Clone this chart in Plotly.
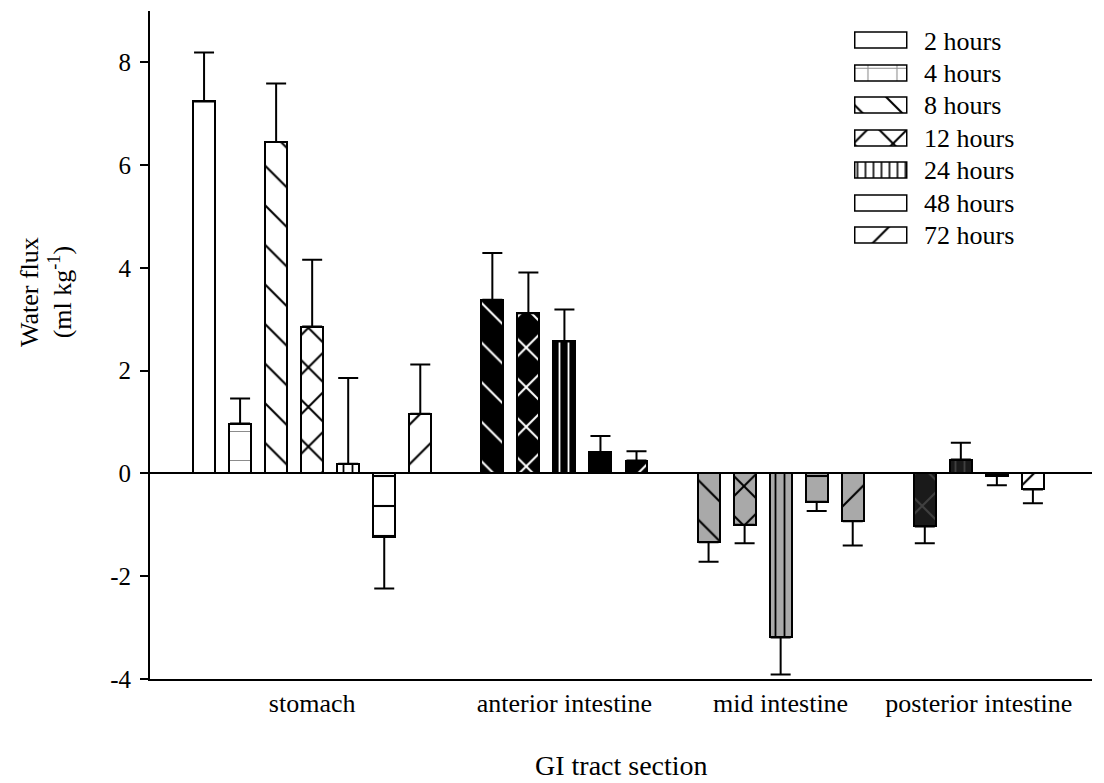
import plotly.graph_objects as go

# ---- data -------------------------------------------------------------
sections = ["stomach", "anterior intestine", "mid intestine", "posterior intestine"]
times = ["2 hours", "4 hours", "8 hours", "12 hours", "24 hours", "48 hours", "72 hours"]

# mean water flux (ml kg-1) per sampling time; None = no measurement
stomach = [7.24, 0.97, 6.45, 2.86, 0.19, -1.23, 1.16]
anterior_intestine = [None, None, 3.38, 3.12, 2.57, 0.42, 0.25]
mid_intestine = [None, None, -1.34, -1.00, -3.19, -0.55, -0.93]
posterior_intestine = [None, None, None, -1.03, 0.27, -0.04, -0.31]

# standard error of each mean (drawn away from zero)
stomach_se = [0.95, 0.49, 1.14, 1.30, 1.67, 1.01, 0.96]
anterior_intestine_se = [None, None, 0.91, 0.79, 0.62, 0.31, 0.18]
mid_intestine_se = [None, None, 0.38, 0.36, 0.72, 0.18, 0.47]
posterior_intestine_se = [None, None, None, 0.33, 0.33, 0.19, 0.27]

y_ticks = [-4, -2, 0, 2, 4, 6, 8]
y_tick_labels = ["-4", "-2", "0", "2", "4", "6", "8"]

means = {
    "stomach": stomach,
    "anterior intestine": anterior_intestine,
    "mid intestine": mid_intestine,
    "posterior intestine": posterior_intestine,
}
errors = {
    "stomach": stomach_se,
    "anterior intestine": anterior_intestine_se,
    "mid intestine": mid_intestine_se,
    "posterior intestine": posterior_intestine_se,
}

# ---- styling ----------------------------------------------------------
FONT = "Liberation Serif, Times New Roman, serif"

# hatch per sampling time: (shape, tile size, solidity)
hatch = {
    "2 hours": ("", 10, 0.1),
    "4 hours": ("+", 29, 0.07),
    "8 hours": ("\\", 28, 0.075),
    "12 hours": ("x", 28, 0.14),
    "24 hours": ("|", 9, 0.2),
    "48 hours": ("-", 30, 0.07),
    "72 hours": ("/", 28, 0.075),
}
# (fill, hatch ink) per gut section
section_style = {
    "stomach": ("white", "black"),
    "anterior intestine": ("black", "white"),
    "mid intestine": ("#a9a9a9", "black"),
    "posterior intestine": ("#1a1a1a", "#404040"),
}
style_override = {
    ("stomach", "4 hours"): ("white", "#8c8c8c"),
    ("posterior intestine", "48 hours"): ("black", "black"),
    ("posterior intestine", "72 hours"): ("white", "black"),
}

# ---- slot layout: bars side by side, one empty slot between sections --
slot_of = {}
centres = []
slot = 0
for sec in sections:
    used = []
    for t, v in zip(times, means[sec]):
        if v is not None:
            slot_of[(sec, t)] = slot
            used.append(slot)
            slot += 1
    centres.append(sum(used) / len(used))
    slot += 1

fig = go.Figure()

for sec in sections:
    for i, t in enumerate(times):
        v = means[sec][i]
        if v is None:
            continue
        e = errors[sec][i]
        fill, ink = style_override.get((sec, t), section_style[sec])
        shape, size, solidity = hatch[t]
        fig.add_trace(go.Bar(
            x=[slot_of[(sec, t)]], y=[v], name=t, width=0.61,
            showlegend=False,
            marker=dict(
                color=fill,
                line=dict(color="black", width=2),
                pattern=dict(shape=shape, size=size, solidity=solidity,
                             fgcolor=ink, bgcolor=fill, fgopacity=1,
                             fillmode="replace"),
            ),
            error_y=dict(type="data", symmetric=False,
                         array=[e if v >= 0 else 0],
                         arrayminus=[e if v < 0 else 0],
                         color="black", thickness=2, width=10),
        ))

# key: one swatch per sampling time on its own small axis pair
for i, t in enumerate(times):
    shape, size, solidity = hatch[t]
    ink = "#8c8c8c" if t == "4 hours" else "black"
    fig.add_trace(go.Bar(
        x=[1], y=[i], orientation="h", width=0.48, base=0,
        xaxis="x2", yaxis="y2", showlegend=False, hoverinfo="skip",
        marker=dict(
            color="white",
            line=dict(color="black", width=1.5),
            pattern=dict(shape=shape, size=size if t != "24 hours" else 8,
                         solidity=solidity, fgcolor=ink, bgcolor="white",
                         fgopacity=1),
        ),
    ))
    fig.add_annotation(
        x=0.82, xref="paper", y=i, yref="y2", text=t, showarrow=False,
        xanchor="left", yanchor="middle",
        font=dict(family=FONT, size=26, color="black"),
    )

fig.update_layout(
    width=1104, height=783,
    margin=dict(l=150, r=12, t=11, b=104),
    paper_bgcolor="white", plot_bgcolor="white",
    bargap=0, barmode="overlay",
    font=dict(family=FONT, color="black"),
    xaxis=dict(
        range=[-1.5, 24.64], tickvals=centres, ticktext=sections,
        ticks="", showline=True, linecolor="black", linewidth=2,
        showgrid=False, zeroline=False, tickfont=dict(size=26),
        ticklabelstandoff=0,
    ),
    yaxis=dict(
        range=[-4, 9], tickvals=y_ticks, ticktext=y_tick_labels,
        ticks="outside", ticklen=8,
        tickwidth=2, tickcolor="black", showline=True, linecolor="black",
        linewidth=2, showgrid=False, zeroline=True, zerolinecolor="black",
        zerolinewidth=2, tickfont=dict(size=25), ticklabelstandoff=4,
    ),
    xaxis2=dict(domain=[0.7468, 0.8053], range=[-0.03, 1.03], anchor="y2",
                visible=False, fixedrange=True),
    yaxis2=dict(domain=[0.6389, 0.9794], range=[6.5, -0.5], anchor="x2",
                visible=False, fixedrange=True),
    showlegend=False,
)

fig.add_annotation(
    x=-0.1106, xref="paper", y=0.579, yref="paper",
    xanchor="center", yanchor="middle",
    text="Water flux<br>(ml kg<sup>-1</sup>)", textangle=-90, showarrow=False,
    font=dict(family=FONT, size=26, color="black"),
)
fig.add_annotation(
    x=0.5, xref="paper", y=-0.129, yref="paper", yanchor="middle",
    text="GI tract section", showarrow=False,
    font=dict(family=FONT, size=28, color="black"),
)

fig.write_html("out.html")
